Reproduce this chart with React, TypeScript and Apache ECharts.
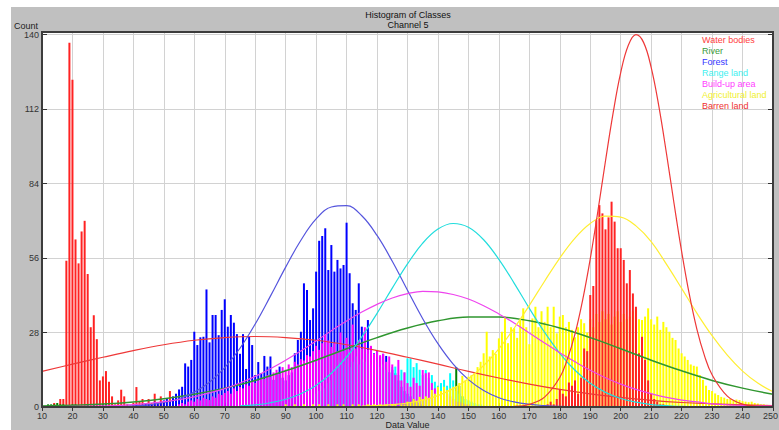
import React, { useEffect, useRef } from "react";
import * as echarts from "echarts";

// ---- classes ----
const classNames = ["Water bodies", "River", "Forest", "Range land", "Build-up area", "Agricultural land", "Barren land"];
const barColors = ["#ff2222", "#008000", "#0000ff", "#00ffff", "#ff00ff", "#ffff00", "#ff2222"];
const curveColors = ["#ee3838", "#2f962f", "#5555dd", "#22dddd", "#ee44ee", "#ffee33", "#ee3838"];
const legendColors = ["#ff4040", "#3a9a3a", "#3535ff", "#3ff0f0", "#ff40ff", "#f0f030", "#ee3030"];

// ---- histogram counts (per data value) ----
const waterStart = 14;
const waterCounts = [1.5, 0, 3, 3, 55, 137, 123, 63, 54, 66, 70, 50, 30, 34.5, 25.5, 10, 11.5, 13.5, 9.5, 4, 1, 2.5, 6.5, 4, 1, 0.5, 1.5, 7.5, 2, 3, 1, 3, 1.5, 5, 1, 4, 2, 0, 6, 1, 0.5];

const riverValues = [12, 13, 14, 15, 16, 17, 20, 21, 24, 25, 27, 28, 30, 31, 146, 147, 148];
const riverCounts = [1, 1, 1, 1.5, 1, 1, 1, 1, 0.5, 1, 1, 0.5, 1, 1, 15, 8, 4];

const forestStart = 40;
const forestCounts = [
  0.5, 1, 0.5, 1, 1.5, 1, 1, 2, 1.5, 2, 2.5, 3, 2, 4, 5,
  6.6, 7.6, 16.4, 15.2, 17.7, 28.3, 23.3, 26.2, 26.4, 44.2,
  24.3, 34.6, 34.6, 27, 36.5, 40.5, 30.2, 34.6, 31.7, 27.4,
  20, 27.4, 14.3, 26.4, 23.3, 12, 16.9, 12.7, 19.2, 15.2,
  19, 10.2, 12.7, 15.2, 11, 10, 12, 13, 20.2, 25.2,
  28.3, 46.5, 44, 32.7, 37.1, 50.9, 62.5, 64.3, 67.2, 51.5,
  60.9, 50.9, 55.3, 52.1, 53.4, 69.3, 50.3, 39, 36.5, 46.5,
  30.2, 28.3, 32.7, 22.7, 20.2, 21, 19, 20, 19.2, 13,
  14, 12.7, 10, 7.6, 6, 5, 4, 3, 2, 1.5, 1,
];

const rangeStart = 100;
const rangeCounts = [
  5, 6, 8, 7, 9, 10, 12, 15, 17, 16,
  18, 15, 17, 19, 16, 18, 17, 20, 16, 18,
  17, 15, 16, 14, 13, 15, 15.2, 12, 14, 13,
  18.3, 18.3, 15, 16.5, 14, 12, 13.9, 11, 12, 9.5,
  8, 9, 10.2, 8, 12.7, 10, 6, 5, 4, 3,
  2.5, 2, 1.5, 1, 1, 0.5,
];

const buildStart = 55;
const buildCounts = [
  1, 1.5, 1, 2, 2.5, 2, 3, 2.5, 3.5, 3,
  2.6, 4, 3.5, 5, 4.5, 5.3, 6, 5, 7, 6,
  7.5, 7, 8.5, 8, 9.5, 9, 10, 11, 10.5, 12,
  11.5, 13, 14, 12.5, 15, 14, 16, 15, 17, 16,
  18, 17.5, 19.5, 19, 21, 23, 21.5, 24, 27, 25,
  22.6, 24, 21, 28, 21, 26, 21.6, 31, 22, 25,
  22, 30, 21.5, 23, 20, 21, 19.5, 20, 17, 19,
  16, 12, 17.7, 10, 13, 9, 7.6, 11, 9, 8,
  13.9, 12.7, 13, 9, 7, 6.4, 5, 7, 5, 4,
  3, 2, 2, 1.5, 1, 1,
];

const agriStart = 90;
const agriCounts = [
  1, 0, 0, 1, 0, 0, 1, 0, 0, 1,
  0, 1, 0, 0, 1, 0, 0, 1, 0, 1,
  0, 0, 1, 0, 1, 0, 0, 1, 0, 1,
  0, 1, 0, 1, 0, 1, 1, 0, 1, 1,
  2, 1.5, 3, 2, 3.8, 3, 4, 3, 6.4, 5,
  7.6, 6, 7.6, 6.4, 7, 7.6, 7.6, 9, 11.7, 10,
  11.4, 12, 12.7, 15, 17, 20.2, 28.3, 19, 21.4, 20,
  25.8, 28.3, 34, 24, 30, 29.6, 26, 33, 37.1, 30,
  23.6, 33.3, 37.7, 30, 36, 32, 37.7, 30, 37.7, 27.7,
  34, 34.6, 30, 32, 29, 26.2, 30, 33, 31.5, 28,
  33, 30, 35, 32, 36, 33, 35, 31, 34, 36,
  32, 35, 33, 34, 36, 37, 33, 32.7, 34, 37.1,
  33, 31, 34, 29, 32, 30, 28.3, 26, 25.2, 22,
  20.2, 19, 17.7, 16, 15.5, 15.2, 12, 10.2, 8, 6.4,
  6, 5.1, 4.5, 3.8, 3.5, 3, 3, 2.5, 2.8, 2.6,
  2.2, 2, 1.8, 2, 1.5, 1.3, 1, 1, 0.8, 0.5,
  0.5,
];

const barrenStart = 176;
const barrenCounts = [
  1, 2, 1, 3, 6.4, 5, 4, 9.2, 8, 10,
  5, 11, 22, 21, 42.1, 45.5, 70.3, 75.9, 72.8, 66.8,
  71.3, 77.2, 69.7, 59.7, 59.7, 55.3, 46.5, 51.5, 42.7, 37.7,
  20.2, 26.4, 17.7, 10, 5, 3, 2, 1, 1, 0.5,
];

// ---- fitted curves ----
const waterCurveX = [10, 20, 30, 40, 50, 60, 70, 80, 90, 100, 110, 120, 130, 140, 150, 160, 170, 180, 190, 200, 210, 220, 230, 240, 250];
const waterCurveY = [13.4, 16.1, 18.7, 21.2, 23.4, 25.1, 26.1, 26.5, 26.1, 25.1, 23.4, 21.2, 18.7, 16.1, 13.4, 10.9, 8.6, 6.6, 4.9, 3.6, 2.5, 1.7, 1.2, 0.8, 0.5];

const riverCurveX = [10, 20, 30, 40, 50, 60, 70, 80, 90, 100, 110, 120, 130, 140, 150, 160, 170, 180, 190, 200, 210, 220, 230, 240, 250];
const riverCurveY = [0.4, 0.7, 1.1, 1.9, 3.1, 4.8, 7.1, 10, 13.6, 17.6, 21.9, 26.1, 29.7, 32.4, 33.8, 33.8, 32.4, 29.7, 26.1, 21.9, 17.6, 13.6, 10, 7.1, 4.8];

const forestCurveX = [35, 40, 45, 50, 55, 60, 65, 70, 75, 80, 85, 90, 95, 100, 105, 110, 115, 120, 125, 130, 135, 140, 145, 150, 155, 160, 165, 170, 175, 180, 185];
const forestCurveY = [0.2, 0.4, 0.8, 1.7, 3.1, 5.6, 9.3, 14.8, 22.1, 31.2, 41.7, 52.6, 62.7, 70.7, 75.2, 75.7, 71.9, 64.5, 54.8, 43.9, 33.2, 23.8, 16.1, 10.3, 6.2, 3.5, 1.9, 1, 0.5, 0.2, 0.1];

const rangeCurveX = [75, 80, 85, 90, 95, 100, 105, 110, 115, 120, 125, 130, 135, 140, 145, 150, 155, 160, 165, 170, 175, 180, 185, 190, 195, 200, 205, 210, 215, 220, 225];
const rangeCurveY = [0.4, 0.8, 1.6, 2.9, 5, 8.1, 12.7, 18.8, 26.4, 35.2, 44.7, 53.8, 61.6, 66.9, 69, 67.6, 62.9, 55.5, 46.6, 37.1, 28.1, 20.2, 13.8, 8.9, 5.5, 3.2, 1.8, 0.9, 0.5, 0.2, 0.1];

const buildCurveX = [10, 20, 30, 40, 50, 55, 60, 65, 70, 75, 80, 85, 90, 95, 100, 105, 110, 115, 120, 125, 130, 135, 140, 145, 150, 155, 160, 165, 170, 175, 180, 185, 190, 195, 200, 205, 210, 215, 220, 225, 230, 235, 240, 245, 250];
const buildCurveY = [0.1, 0.2, 0.4, 0.9, 2, 2.8, 3.8, 5.3, 6.9, 9, 11.5, 14.4, 17.6, 21.1, 24.8, 28.7, 32.3, 35.7, 38.6, 41, 42.6, 43.5, 43.3, 42.3, 40.6, 38.1, 35, 31.6, 27.8, 24.1, 20.4, 17, 13.8, 11, 8.6, 6.6, 5, 3.6, 2.6, 1.9, 1.2, 0.8, 0.6, 0.4, 0.3];

const agriCurveX = [115, 120, 125, 130, 135, 140, 145, 150, 155, 160, 165, 170, 175, 180, 185, 190, 195, 200, 205, 210, 215, 220, 225, 230, 235, 240, 245, 250];
const agriCurveY = [0.3, 0.5, 0.9, 1.5, 2.6, 4.3, 6.9, 10.6, 15.6, 21.9, 29.6, 38.2, 47.3, 56, 63.5, 69, 71.8, 71.4, 68.1, 62.2, 53.7, 44.6, 35.3, 26.8, 19.5, 13.5, 9, 5.7];

const barrenCurveX = [165, 170, 175, 180, 182.5, 185, 187.5, 190, 192.5, 195, 197.5, 200, 202.5, 205, 207.5, 210, 212.5, 215, 217.5, 220, 222.5, 225, 227.5, 230, 235, 240, 245, 250];
const barrenCurveY = [0.2, 1, 3.7, 11.1, 18, 27.5, 40.2, 55.7, 73.6, 92.5, 110.5, 125.7, 136, 140, 137.1, 127.7, 113.2, 95.5, 76.6, 58.5, 42.5, 29.3, 19.3, 12.1, 4.1, 1.1, 0.3, 0.1];

// ---- axes ----
const xMin = 10;
const xMax = 250;
const xStep = 10;
const yMax = 141;
const yStep = 28;

const FONT = "'Liberation Sans', Arial, sans-serif";

export default function App() {
  const ref = useRef<HTMLDivElement>(null);

  useEffect(() => {
    if (!ref.current) return;
    const chart = echarts.init(ref.current, null, { renderer: "svg" });

    const fromStart = (start: number, counts: number[]) => counts.map((c, i) => [start + i, c]);
    const zip = (xs: number[], ys: number[]) => xs.map((x, i) => [x, ys[i]]);

    const barData = [
      fromStart(waterStart, waterCounts),
      zip(riverValues, riverCounts),
      fromStart(forestStart, forestCounts),
      fromStart(rangeStart, rangeCounts),
      fromStart(buildStart, buildCounts),
      fromStart(agriStart, agriCounts),
      fromStart(barrenStart, barrenCounts),
    ];
    const curveData = [
      zip(waterCurveX, waterCurveY),
      zip(riverCurveX, riverCurveY),
      zip(forestCurveX, forestCurveY),
      zip(rangeCurveX, rangeCurveY),
      zip(buildCurveX, buildCurveY),
      zip(agriCurveX, agriCurveY),
      zip(barrenCurveX, barrenCurveY),
    ];

    const bars = classNames.map((name, i) => ({
      type: "bar",
      name,
      data: barData[i],
      barWidth: 2,
      barGap: "-100%",
      itemStyle: { color: barColors[i] },
      xAxisIndex: 0,
      yAxisIndex: 0,
      z: 2,
      silent: true,
    }));
    const curves = classNames.map((name, i) => ({
      type: "line",
      name,
      data: curveData[i],
      smooth: 0.4,
      showSymbol: false,
      symbol: "none",
      lineStyle: { color: curveColors[i], width: i === 1 ? 1.5 : 1.2 },
      itemStyle: { color: curveColors[i] },
      xAxisIndex: 0,
      yAxisIndex: 0,
      z: 5,
      silent: true,
    }));

    const tickStyle = { color: "#333", width: 1 };
    const labelStyle = { fontSize: 9, color: "#333", fontFamily: FONT };

    chart.setOption({
      animation: false,
      backgroundColor: "transparent",
      textStyle: { fontFamily: FONT },
      title: {
        text: "Histogram of Classes\nChannel 5",
        left: 408,
        top: 10,
        padding: 0,
        textAlign: "center",
        textStyle: { fontSize: 9, fontWeight: "normal", color: "#111", lineHeight: 10, fontFamily: FONT },
      },
      legend: {
        orient: "vertical",
        left: 697,
        top: 35,
        padding: 0,
        itemGap: 1,
        itemWidth: 0,
        itemHeight: 9,
        icon: "none",
        selectedMode: false,
        textStyle: { fontSize: 9, lineHeight: 10, fontFamily: FONT },
        data: classNames.map((name, i) => ({ name, textStyle: { color: legendColors[i] } })),
      },
      grid: {
        left: 42,
        right: 6,
        top: 32,
        bottom: 23,
        show: true,
        backgroundColor: "#ffffff",
        borderWidth: 0,
        containLabel: false,
        outerBoundsMode: "none",
      },
      xAxis: [
        {
          type: "value",
          min: xMin,
          max: xMax,
          interval: xStep,
          position: "bottom",
          axisLine: { show: false },
          axisTick: { show: true, inside: true, length: 4, lineStyle: tickStyle },
          axisLabel: {
            ...labelStyle,
            lineHeight: 9,
            margin: 4,
            formatter: (v: number) => (v === xMax ? "{m|" + v + "}" : String(v)),
            rich: { m: { fontSize: 9, lineHeight: 9, color: "#333", fontFamily: FONT, padding: [0, 5, 0, 0] } },
          },
          splitLine: { show: true, lineStyle: { color: "#d2d2d2", width: 1 } },
          name: "Data Value",
          nameLocation: "middle",
          nameGap: 13.5,
          nameMoveOverlap: false,
          nameTextStyle: { fontSize: 9, lineHeight: 9, color: "#222", fontFamily: FONT },
        },
        {
          type: "value",
          min: xMin,
          max: xMax,
          interval: xStep,
          position: "top",
          axisLine: { show: false },
          axisTick: { show: true, inside: true, length: 4, lineStyle: tickStyle },
          axisLabel: { show: false },
          splitLine: { show: false },
        },
      ],
      yAxis: [
        {
          type: "value",
          min: 0,
          max: yMax,
          interval: yStep,
          position: "left",
          axisLine: { show: false },
          axisTick: { show: true, inside: true, length: 5, lineStyle: tickStyle },
          axisLabel: { ...labelStyle, lineHeight: 7, margin: 3, formatter: (v: number) => (v % yStep === 0 ? String(v) : "") },
          splitLine: { show: true, lineStyle: { color: "#d2d2d2", width: 1 } },
          name: "Count",
          nameLocation: "end",
          nameGap: 2,
          nameTextStyle: { fontSize: 9, color: "#222", align: "right", padding: [0, 4, 0, 0], fontFamily: FONT },
        },
        {
          type: "value",
          min: 0,
          max: yMax,
          interval: yStep,
          position: "right",
          axisLine: { show: false },
          axisTick: { show: true, inside: true, length: 5, lineStyle: tickStyle },
          axisLabel: { show: false },
          splitLine: { show: false },
        },
      ],
      graphic: [
        {
          type: "rect",
          z: 100,
          silent: true,
          shape: { x: 42, y: 32, width: 731, height: 375 },
          style: { fill: "none", stroke: "#3c3c3c", lineWidth: 2 },
        },
      ],
      series: [...bars, ...curves],
    });

    return () => chart.dispose();
  }, []);

  return (
    <div style={{ position: "fixed", left: 0, top: 0, width: 779, height: 430, background: "#ffffff", overflow: "hidden" }}>
      <div style={{ position: "absolute", left: 11, top: 7, right: 0, bottom: 0, background: "#c0c0c0" }} />
      <div ref={ref} style={{ position: "absolute", left: 0, top: 0, width: 779, height: 430 }} />
    </div>
  );
}
